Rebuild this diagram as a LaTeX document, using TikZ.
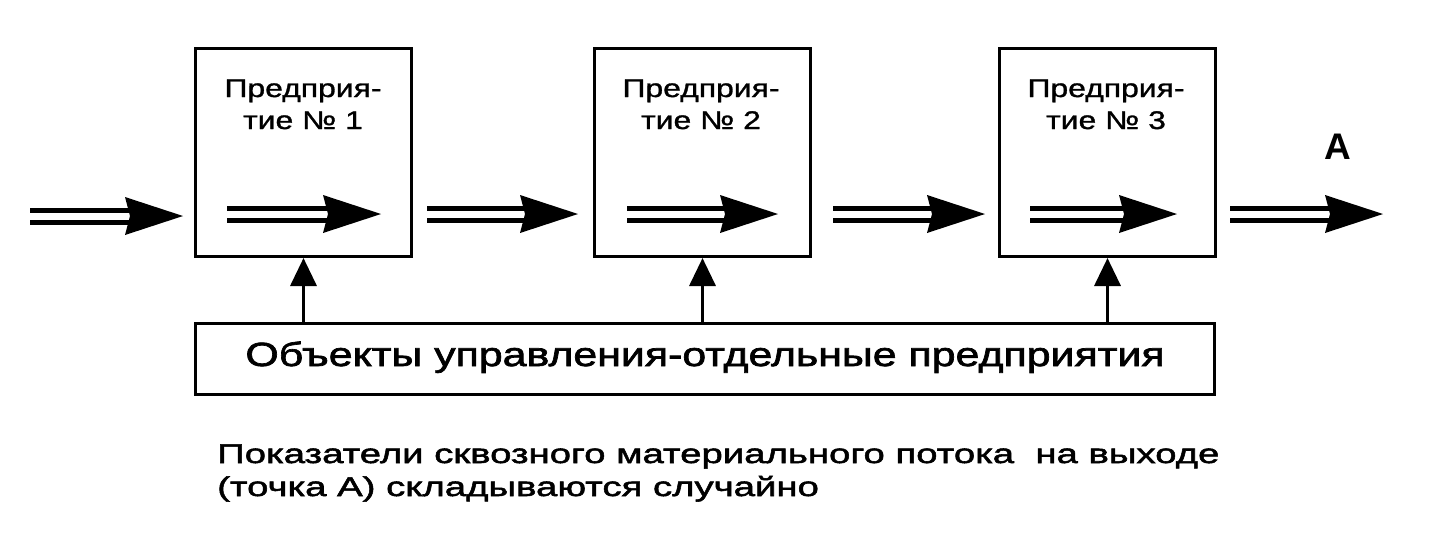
\documentclass[tikz,border=0pt]{standalone}
\usepackage{fontspec}
\setmainfont{Liberation Sans}
\newfontfamily\boxfont[FakeStretch=1.25,FakeBold=1.2]{Liberation Sans}
\newfontfamily\basefont[FakeStretch=1.28,FakeBold=2]{Liberation Sans}
\newfontfamily\capfont[FakeStretch=1.42,FakeBold=2]{Liberation Sans}
\usetikzlibrary{arrows.meta}
\newcommand\flowarrow[2]{%
  \draw[flowline] ([yshift=6pt]#1) -- ([xshift=-50pt,yshift=6pt]#2);
  \draw[flowline] ([yshift=-6pt]#1) -- ([xshift=-50pt,yshift=-6pt]#2);
  \fill (#2) -- ++(-58,-19) -- ++(5,19) -- ++(-5,19) -- cycle;
}
\tikzset{
  firm/.style={draw, line width=3pt, minimum width=216pt, minimum height=208pt, anchor=north west, inner sep=0pt},
  firmtext/.style={align=center, anchor=base, inner sep=0pt, font=\boxfont\fontsize{25.5}{32}\selectfont},
  flowline/.style={line width=5pt},
  ctl/.style={line width=3.5pt, -{Triangle[length=28pt,width=26pt]}},
  basebox/.style={draw, line width=3pt, minimum width=1019pt, minimum height=71pt, anchor=north west, inner sep=0pt},
  captext/.style={anchor=base west, inner sep=0pt, font=\capfont\fontsize{27}{32}\selectfont},
}
\begin{document}
\begin{tikzpicture}[x=1pt,y=-1pt]
\useasboundingbox[fill=white] (0,0) rectangle (1431,542);
\node[firm] (f1) at (194,47) {};
\node[firm] (f2) at (593,47) {};
\node[firm] (f3) at (998,47) {};
\node[firmtext] (t1a) at (303,97) {Предприя-};
\node[firmtext] (t1b) at (303,129) {тие № 1};
\node[firmtext] (t2a) at (701,97) {Предприя-};
\node[firmtext] (t2b) at (701,129) {тие № 2};
\node[firmtext] (t3a) at (1106,97) {Предприя-};
\node[firmtext] (t3b) at (1106,129) {тие № 3};
\node[basebox] (b) at (194,322) {};
\node[anchor=base, inner sep=0pt, font=\basefont\fontsize{33.5}{40}\selectfont] (bt) at (705,366) {Объекты управления-отдельные предприятия};
\node[anchor=base, inner sep=0pt, font=\bfseries\fontsize{37}{40}\selectfont] (A) at (1338,159) {А};
\node[captext] (c1) at (217,463) {Показатели сквозного материального потока\ \ на выходе};
\node[captext] (c2) at (217,496) {(точка А) складываются случайно};
% flow coordinates
\coordinate (s0) at (30,216);   \coordinate (e0) at (183,216);
\coordinate (s1) at (227,214);  \coordinate (e1) at (381,214);
\coordinate (s2) at (427,214);  \coordinate (e2) at (578,214);
\coordinate (s3) at (627,214);  \coordinate (e3) at (778,214);
\coordinate (s4) at (833,214);  \coordinate (e4) at (985,214);
\coordinate (s5) at (1030,214); \coordinate (e5) at (1177,214);
\coordinate (s6) at (1230,214); \coordinate (e6) at (1383,214);
\flowarrow{s0}{e0}
\flowarrow{s1}{e1}
\flowarrow{s2}{e2}
\flowarrow{s3}{e3}
\flowarrow{s4}{e4}
\flowarrow{s5}{e5}
\flowarrow{s6}{e6}
\draw[ctl] (b.north -| f1.south) -- (f1.south);
\draw[ctl] (b.north -| f2.south) -- (f2.south);
\draw[ctl] (b.north -| f3.south) -- (f3.south);
\end{tikzpicture}
\end{document}
